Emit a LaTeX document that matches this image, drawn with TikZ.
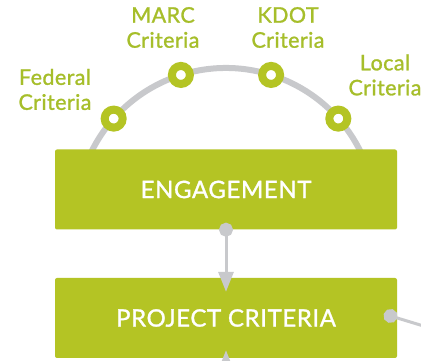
\documentclass[tikz,border=0pt]{standalone}
\usepackage{fontspec}
\setmainfont{Lato}[FakeBold=1.2, LetterSpace=2]
\newfontfamily\boxfont{Lato}[FakeBold=1.2, LetterSpace=2.5]
\usetikzlibrary{arrows.meta}
\definecolor{leaf}{RGB}{180,196,36}
\definecolor{leaftext}{RGB}{166,190,42}
\definecolor{wire}{RGB}{200,201,204}
\tikzstyle{stage} = [rectangle, rounded corners=2pt, minimum width=342pt, minimum height=80pt, fill=leaf, text=white, font=\boxfont\fontsize{24}{28}\selectfont]
\tikzstyle{ring} = [circle, minimum size=18pt, inner sep=0pt, line width=8pt, draw=leaf, fill=white]
\tikzstyle{tag} = [align=center, text=leaftext, inner sep=0pt, font=\fontsize{21.5}{25}\selectfont]
\tikzstyle{arrow} = [line width=3pt, draw=wire, {Circle[length=14pt]}-{Triangle[width=15pt,length=20pt]}, shorten <=-7pt]

\begin{document}
\begin{tikzpicture}[x=1pt, y=1pt]
\useasboundingbox (0,0) rectangle (421,361);
\fill[white] (0,0) rectangle (421,361);

% Arc of criteria
\coordinate (hub) at (226,143);
\draw [wire, line width=6pt] ([shift={(25:150)}]hub) arc[start angle=25, end angle=155, radius=150];

% Steps
\node (E) [stage] at (226,171.5) {ENGAGEMENT};
\node (P) [stage] at (226,43) {PROJECT CRITERIA};

% Criteria rings
\node (R1) [ring] at ([shift={(138.5:150)}]hub) {};
\node (R2) [ring] at ([shift={(107.5:150)}]hub) {};
\node (R3) [ring] at ([shift={(72.5:150)}]hub) {};
\node (R4) [ring] at ([shift={(41.5:150)}]hub) {};

\node (T1) [tag] at (55,271.5) {Federal\\Criteria};
\node (T2) [tag] at (163,333.5) {MARC\\Criteria};
\node (T3) [tag] at (288,333.5) {KDOT\\Criteria};
\node (T4) [tag] at (385,286) {Local\\Criteria};

% Connecting arrows
\coordinate (below) at (226,-20);
\coordinate (side) at (440,30);
\draw [arrow, shorten >=-14pt] (E.south) -- (P.north);
\draw [line width=3pt, draw=wire, -{Triangle[width=15pt,length=20pt]}, shorten >=-8pt] (below) -- (P.south);
\draw [line width=3pt, draw=wire, {Circle[length=14pt]}-, shorten <=-14pt] (P.east) -- (side);

\end{tikzpicture}
\end{document}
